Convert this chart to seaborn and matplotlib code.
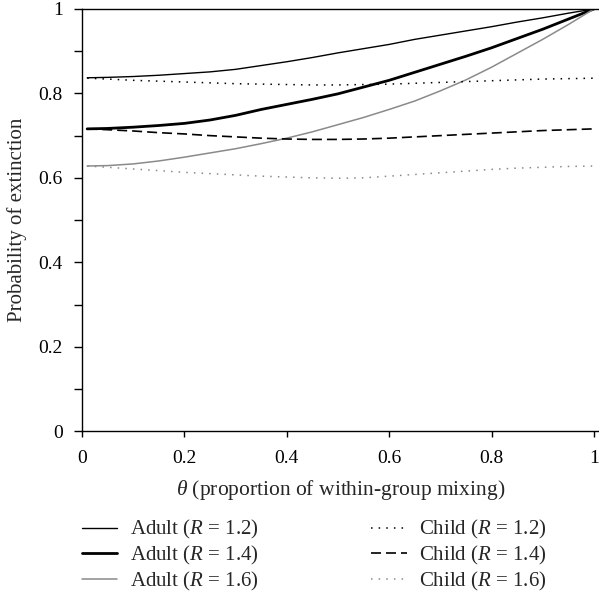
import matplotlib
matplotlib.use("Agg")
import matplotlib.pyplot as plt
import seaborn as sns
import pandas as pd
from matplotlib.ticker import MultipleLocator

theta = [0.01, 0.05, 0.1, 0.15, 0.2, 0.25, 0.3, 0.35, 0.4, 0.45, 0.5,
         0.55, 0.6, 0.65, 0.7, 0.75, 0.8, 0.85, 0.9, 0.95, 1.0]
adult_12 = [0.837, 0.838, 0.840, 0.843, 0.847, 0.851, 0.857, 0.866, 0.875, 0.885, 0.896,
            0.906, 0.916, 0.928, 0.938, 0.948, 0.958, 0.969, 0.979, 0.990, 1.0]
adult_14 = [0.716, 0.717, 0.720, 0.724, 0.729, 0.737, 0.748, 0.762, 0.774, 0.786, 0.799,
            0.815, 0.831, 0.850, 0.869, 0.888, 0.908, 0.930, 0.952, 0.976, 1.0]
adult_16 = [0.628, 0.629, 0.633, 0.640, 0.649, 0.659, 0.669, 0.681, 0.694, 0.709, 0.726,
            0.743, 0.762, 0.782, 0.806, 0.832, 0.862, 0.895, 0.928, 0.963, 1.0]
child_12 = [0.836, 0.834, 0.831, 0.829, 0.827, 0.825, 0.823, 0.822, 0.821, 0.820, 0.820,
            0.821, 0.822, 0.824, 0.826, 0.828, 0.830, 0.832, 0.834, 0.835, 0.836]
child_14 = [0.716, 0.714, 0.711, 0.707, 0.704, 0.700, 0.697, 0.694, 0.692, 0.691, 0.691,
            0.692, 0.694, 0.697, 0.700, 0.703, 0.706, 0.709, 0.712, 0.714, 0.716]
child_16 = [0.628, 0.625, 0.621, 0.617, 0.613, 0.610, 0.607, 0.604, 0.602, 0.600, 0.599,
            0.600, 0.604, 0.608, 0.612, 0.616, 0.620, 0.623, 0.625, 0.627, 0.628]

labels = ["Adult ($R$ = 1.2)", "Adult ($R$ = 1.4)", "Adult ($R$ = 1.6)",
          "Child ($R$ = 1.2)", "Child ($R$ = 1.4)", "Child ($R$ = 1.6)"]
series = [adult_12, adult_14, adult_16, child_12, child_14, child_16]
tick_vals = [0, 0.2, 0.4, 0.6, 0.8, 1.0]
tick_labels = ["0", "0.2", "0.4", "0.6", "0.8", "1"]

sns.set_theme(style="ticks")
plt.rcParams["font.family"] = ["Liberation Serif", "DejaVu Serif"]
plt.rcParams["mathtext.fontset"] = "custom"
plt.rcParams["mathtext.rm"] = "Liberation Serif"
plt.rcParams["mathtext.it"] = "Liberation Serif:italic"
plt.rcParams["mathtext.bf"] = "Liberation Serif:bold"

styles = [
    dict(color="black", lw=1.0, ls="-"),
    dict(color="black", lw=2.0, ls="-"),
    dict(color="#8a8a8a", lw=1.1, ls="-"),
    dict(color="black", lw=1.1, ls=(0, (1, 4))),
    dict(color="black", lw=1.2, ls=(0, (6, 3))),
    dict(color="#8a8a8a", lw=1.1, ls=(0, (1, 4))),
]

fig = plt.figure(figsize=(5.99, 5.98), dpi=100)
ax = fig.add_axes([0.137, 0.279, 0.863, 0.706])

for lab, vals, st in zip(labels, series, styles):
    df = pd.DataFrame({"theta": theta, "p": vals})
    sns.lineplot(data=df, x="theta", y="p", ax=ax, label=lab,
                 color=st["color"], linewidth=st["lw"], linestyle=st["ls"])

ax.set_xlim(0, 1.01)
ax.set_ylim(0, 1)
ax.set_xticks(tick_vals)
ax.set_xticklabels(tick_labels)
ax.set_yticks(tick_vals)
ax.set_yticklabels(tick_labels)
ax.yaxis.set_minor_locator(MultipleLocator(0.1))
ax.tick_params(axis="y", which="both", direction="out", length=6, width=1.0,
               labelsize=14, colors="black", pad=8)
ax.tick_params(axis="x", which="both", direction="out", length=4.5, width=1.0,
               labelsize=14, colors="black", pad=9)
ax.spines["right"].set_visible(False)
ax.spines["top"].set_visible(True)
for s in ["left", "bottom", "top"]:
    ax.spines[s].set_linewidth(1.0)
    ax.spines[s].set_color("black")

ax.set_xlabel(r"$\theta$ (proportion of within-group mixing)", fontsize=15.5, labelpad=8)
ax.set_ylabel("Probability of extinction", fontsize=15, labelpad=8)

handles, labs = ax.get_legend_handles_labels()
ax.get_legend().remove()
fig.legend(handles, labs, ncol=2, loc="upper left", bbox_to_anchor=(0.137, 0.133),
           frameon=False, fontsize=15, handlelength=1.7, columnspacing=5.4,
           labelspacing=0.12, handletextpad=0.6, borderpad=0, borderaxespad=0)

fig.savefig("out.png", dpi=100)
